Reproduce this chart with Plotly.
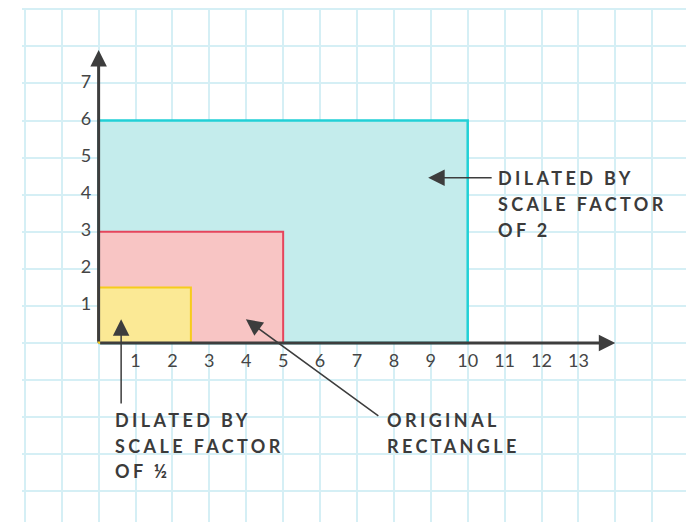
import plotly.graph_objects as go

# ---------------- data ----------------
rect_names = ["Dilated by scale factor of 2", "Original rectangle", "Dilated by scale factor of 1/2"]
rect_x0 = [0, 0, 0]
rect_x1 = [10, 5, 2.5]
rect_y0 = [0, 0, 0]
rect_y1 = [6, 3, 1.5]
rect_fill = ["#c4ecec", "#f8c5c4", "#fbe995"]
rect_line = ["#22d0d6", "#e5455c", "#f6cc1c"]
rect_lw = [2.5, 2, 2]

x_tick_vals = list(range(1, 14))
y_tick_vals = list(range(1, 8))
x_axis_end = 14
y_axis_end = 7.9

# callouts: text lines, text anchor (x, y), arrow tail, arrow tip
callout_lines = [
    ["DILATED BY", "SCALE FACTOR", "OF 2"],
    ["ORIGINAL", "RECTANGLE"],
    ["DILATED BY", "SCALE FACTOR", "OF ½"],
]
callout_text_x = [10.77, 7.75, 0.38]
callout_text_y = [4.45, -2.07, -2.07]
arrow_tail_x = [10.69, 7.62, 0.61]
arrow_tail_y = [4.46, -1.99, -1.67]
arrow_tip_x = [8.93, 3.99, 0.61]
arrow_tip_y = [4.46, 0.64, 0.64]

# ---------------- figure ----------------
INK = "#3d3d3d"
GRID = "#d5eff5"

fig = go.Figure()

for i in range(len(rect_names)):
    xs = [rect_x0[i], rect_x1[i], rect_x1[i], rect_x0[i], rect_x0[i]]
    ys = [rect_y0[i], rect_y0[i], rect_y1[i], rect_y1[i], rect_y0[i]]
    fig.add_trace(go.Scatter(
        x=xs, y=ys, mode="lines", fill="toself",
        fillcolor=rect_fill[i],
        line=dict(color=rect_line[i], width=rect_lw[i]),
        name=rect_names[i], hoverinfo="skip",
    ))

tick_font = dict(family="Lato, 'Open Sans', sans-serif", size=18, color="#454545")
fig.add_trace(go.Scatter(
    x=x_tick_vals, y=[-0.52] * len(x_tick_vals),
    mode="text", text=[str(v) for v in x_tick_vals],
    textposition="middle center", textfont=tick_font, hoverinfo="skip",
))
fig.add_trace(go.Scatter(
    x=[-0.2] * len(y_tick_vals), y=y_tick_vals,
    mode="text", text=[str(v) for v in y_tick_vals],
    textposition="middle left", textfont=tick_font, hoverinfo="skip",
))

annotations = []
# axes with arrowheads
annotations.append(dict(x=x_axis_end, y=0, ax=0, ay=0, xref="x", yref="y",
                        axref="x", ayref="y", text="", showarrow=True,
                        arrowhead=2, arrowsize=1.1, arrowwidth=3, arrowcolor=INK,
                        standoff=0))
annotations.append(dict(x=0, y=y_axis_end, ax=0, ay=0, xref="x", yref="y",
                        axref="x", ayref="y", text="", showarrow=True,
                        arrowhead=2, arrowsize=1.1, arrowwidth=3, arrowcolor=INK,
                        standoff=0))

label_font = dict(family="Lato, 'Open Sans', sans-serif", size=18, color="#3b3b3b")
for i in range(len(callout_lines)):
    annotations.append(dict(x=arrow_tip_x[i], y=arrow_tip_y[i],
                            ax=arrow_tail_x[i], ay=arrow_tail_y[i],
                            xref="x", yref="y", axref="x", ayref="y",
                            text="", showarrow=True, arrowhead=2,
                            arrowsize=2.2, arrowwidth=1.5, arrowcolor=INK,
                            standoff=0))
    for j, line in enumerate(callout_lines[i]):
        annotations.append(dict(
            x=callout_text_x[i], y=callout_text_y[i], xref="x", yref="y",
            text='<b><span style="letter-spacing:3.4px">' + line + '</span></b>',
            showarrow=False, xanchor="left", yanchor="middle",
            yshift=-25.8 * j, font=label_font,
        ))

axis_common = dict(showgrid=True, gridcolor=GRID, gridwidth=1.5, dtick=1, tick0=0,
                   zeroline=False, showticklabels=False, ticks="", showline=False)

fig.update_layout(
    width=694, height=522,
    margin=dict(l=14, r=11, t=0, b=0),
    paper_bgcolor="white", plot_bgcolor="white",
    showlegend=False,
    xaxis=dict(range=[-2.076, 16.05], **axis_common),
    yaxis=dict(range=[-5.04, 9.035], **axis_common),
    annotations=annotations,
)

fig.write_html("out.html")
